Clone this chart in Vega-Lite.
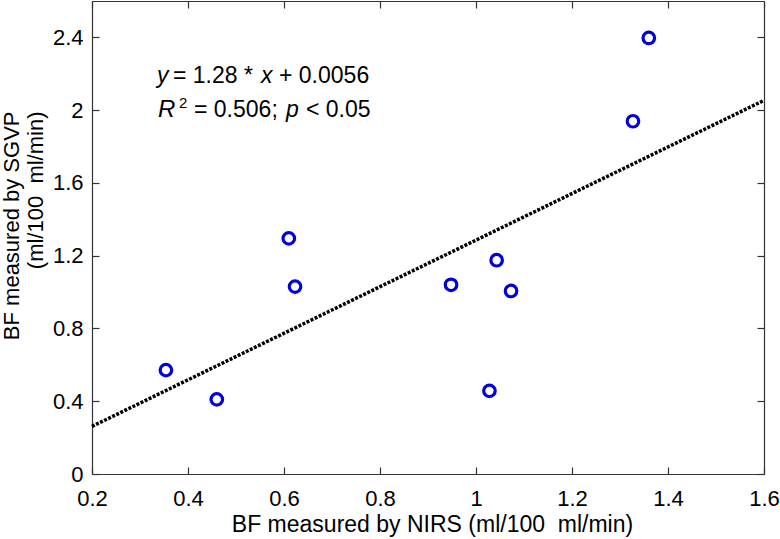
{
  "$schema": "https://vega.github.io/schema/vega-lite/v6.json",
  "autosize": "none",
  "width": 672,
  "height": 473,
  "padding": {"left": 92, "top": 1, "right": 16, "bottom": 65},
  "background": "white",
  "config": {
    "view": {"stroke": null},
    "font": "Liberation Sans",
    "axis": {
      "domainColor": "#333333",
      "domainWidth": 1.2,
      "tickColor": "#333333",
      "tickWidth": 1.2,
      "tickSize": -7,
      "grid": false,
      "format": "~g",
      "labelFont": "Liberation Sans",
      "labelFontSize": 22,
      "labelColor": "#000000",
      "titleFont": "Liberation Sans",
      "titleFontWeight": "normal",
      "titleColor": "#000000"
    }
  },
  "layer": [
    {
      "data": {"values": [{"nirs": 0.2, "sgvp": 0.2616}, {"nirs": 1.6, "sgvp": 2.0536}]},
      "mark": {"type": "line", "color": "#000000", "strokeWidth": 3.5, "strokeDash": [3, 1.5]},
      "encoding": {
        "x": {"field": "nirs", "type": "quantitative",
              "scale": {"domain": [0.2, 1.6], "nice": false, "zero": false},
              "axis": {"orient": "bottom", "values": [0.2, 0.4, 0.6, 0.8, 1, 1.2, 1.4, 1.6], "labelPadding": 21, "labelFlush": false,
                       "title": "BF measured by NIRS (ml/100\u00a0 ml/min)", "titleFontSize": 23,
                       "titleBaseline": "alphabetic", "titleY": 57.5, "titleX": 340}},
        "y": {"field": "sgvp", "type": "quantitative",
              "scale": {"domain": [0, 2.6], "nice": false, "zero": false},
              "axis": {"orient": "left", "values": [0, 0.4, 0.8, 1.2, 1.6, 2, 2.4], "labelPadding": 16, "labelFlush": false,
                       "title": ["BF measured by SGVP", "(ml/100\u00a0 ml/min)"], "titleFontSize": 22, "titleLineHeight": 24,
                       "titleAngle": 270, "titleAlign": "right", "titleBaseline": "top", "titleX": -91, "titleY": 110}}
      }
    },
    {
      "data": {"values": [
        {"nirs": 0.354, "sgvp": 0.571},
        {"nirs": 0.46, "sgvp": 0.41},
        {"nirs": 0.61, "sgvp": 1.295},
        {"nirs": 0.623, "sgvp": 1.03},
        {"nirs": 0.948, "sgvp": 1.04},
        {"nirs": 1.028, "sgvp": 0.457},
        {"nirs": 1.043, "sgvp": 1.175},
        {"nirs": 1.073, "sgvp": 1.006},
        {"nirs": 1.327, "sgvp": 1.939},
        {"nirs": 1.36, "sgvp": 2.397}
      ]},
      "mark": {"type": "point", "shape": "circle", "filled": false, "color": "#0000dd", "strokeWidth": 3.2, "size": 133, "opacity": 1},
      "encoding": {
        "x": {"field": "nirs", "type": "quantitative",
              "scale": {"domain": [0.2, 1.6], "nice": false, "zero": false},
              "axis": {"orient": "top", "values": [0.2, 0.4, 0.6, 0.8, 1, 1.2, 1.4, 1.6], "labels": false, "title": null}},
        "y": {"field": "sgvp", "type": "quantitative",
              "scale": {"domain": [0, 2.6], "nice": false, "zero": false},
              "axis": {"orient": "right", "values": [0, 0.4, 0.8, 1.2, 1.6, 2, 2.4], "labels": false, "title": null}}
      }
    },
    {
      "data": {"values": [{}]},
      "mark": {"type": "text", "align": "left", "baseline": "alphabetic", "fontSize": 23, "fontStyle": "italic", "font": "Liberation Sans"},
      "encoding": {"x": {"datum": 0.3354, "type": "quantitative", "axis": null}, "y": {"datum": 2.149, "type": "quantitative", "axis": null}, "text": {"value": "y"}}
    },
    {
      "data": {"values": [{}]},
      "mark": {"type": "text", "align": "left", "baseline": "alphabetic", "fontSize": 23, "font": "Liberation Sans"},
      "encoding": {"x": {"datum": 0.3687, "type": "quantitative", "axis": null}, "y": {"datum": 2.149, "type": "quantitative", "axis": null}, "text": {"value": "= 1.28 *"}}
    },
    {
      "data": {"values": [{}]},
      "mark": {"type": "text", "align": "left", "baseline": "alphabetic", "fontSize": 23, "fontStyle": "italic", "font": "Liberation Sans"},
      "encoding": {"x": {"datum": 0.5522, "type": "quantitative", "axis": null}, "y": {"datum": 2.149, "type": "quantitative", "axis": null}, "text": {"value": "x"}}
    },
    {
      "data": {"values": [{}]},
      "mark": {"type": "text", "align": "left", "baseline": "alphabetic", "fontSize": 23, "font": "Liberation Sans"},
      "encoding": {"x": {"datum": 0.5896, "type": "quantitative", "axis": null}, "y": {"datum": 2.149, "type": "quantitative", "axis": null}, "text": {"value": "+ 0.0056"}}
    },
    {
      "data": {"values": [{}]},
      "mark": {"type": "text", "align": "left", "baseline": "alphabetic", "fontSize": 24, "fontStyle": "italic", "font": "Liberation Sans"},
      "encoding": {"x": {"datum": 0.3375, "type": "quantitative", "axis": null}, "y": {"datum": 1.963, "type": "quantitative", "axis": null}, "text": {"value": "R"}}
    },
    {
      "data": {"values": [{}]},
      "mark": {"type": "text", "align": "left", "baseline": "alphabetic", "fontSize": 15, "font": "Liberation Sans"},
      "encoding": {"x": {"datum": 0.3813, "type": "quantitative", "axis": null}, "y": {"datum": 2.0125, "type": "quantitative", "axis": null}, "text": {"value": "2"}}
    },
    {
      "data": {"values": [{}]},
      "mark": {"type": "text", "align": "left", "baseline": "alphabetic", "fontSize": 23, "font": "Liberation Sans"},
      "encoding": {"x": {"datum": 0.4125, "type": "quantitative", "axis": null}, "y": {"datum": 1.963, "type": "quantitative", "axis": null}, "text": {"value": "= 0.506;"}}
    },
    {
      "data": {"values": [{}]},
      "mark": {"type": "text", "align": "left", "baseline": "alphabetic", "fontSize": 23, "fontStyle": "italic", "font": "Liberation Sans"},
      "encoding": {"x": {"datum": 0.6042, "type": "quantitative", "axis": null}, "y": {"datum": 1.963, "type": "quantitative", "axis": null}, "text": {"value": "p"}}
    },
    {
      "data": {"values": [{}]},
      "mark": {"type": "text", "align": "left", "baseline": "alphabetic", "fontSize": 23, "font": "Liberation Sans"},
      "encoding": {"x": {"datum": 0.6458, "type": "quantitative", "axis": null}, "y": {"datum": 1.963, "type": "quantitative", "axis": null}, "text": {"value": "< 0.05"}}
    }
  ],
  "resolve": {"axis": {"x": "independent", "y": "independent"}}
}
